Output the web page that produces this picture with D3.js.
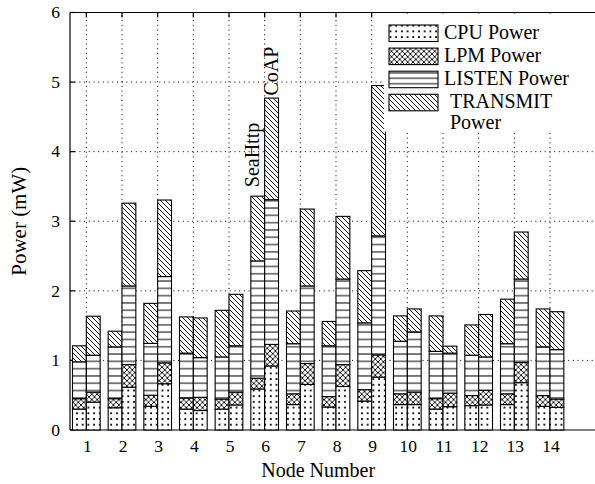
<!DOCTYPE html>
<html><head><meta charset="utf-8">
<script src="https://cdn.jsdelivr.net/npm/d3@7"></script>
<style>
body{margin:0;background:#fff}
svg{display:block}
text{font-family:"Liberation Serif","Times New Roman","DejaVu Serif",serif;fill:#000}
</style>
</head><body>
<svg id="chart" width="595" height="484" font-family="Liberation Serif, Times New Roman, serif"></svg>
<script>
// ---- data ----
const nodes = [1,2,3,4,5,6,7,8,9,10,11,12,13,14];
const seriesKeys = ["cpu","lpm","listen","transmit"];
const legendLines = [["CPU Power"],["LPM Power"],["LISTEN Power"],["TRANSMIT","Power"]];
const protocols = ["SeaHttp","CoAP"];

// SeaHttp (left bar of each pair), segment values in mW
const seaCpu      = [0.30,0.32,0.34,0.30,0.30,0.59,0.365,0.33,0.415,0.365,0.30,0.35,0.365,0.34];
const seaLpm      = [0.15,0.13,0.16,0.16,0.145,0.155,0.155,0.15,0.165,0.155,0.15,0.145,0.155,0.155];
const seaListen   = [0.53,0.745,0.745,0.645,0.605,1.685,0.72,0.73,0.96,0.755,0.68,0.58,0.72,0.70];
const seaTransmit = [0.23,0.225,0.575,0.52,0.67,0.93,0.47,0.35,0.75,0.365,0.51,0.435,0.64,0.545];

// CoAP (right bar of each pair)
const coapCpu      = [0.40,0.615,0.665,0.28,0.36,0.92,0.655,0.625,0.76,0.365,0.335,0.36,0.68,0.325];
const coapLpm      = [0.145,0.325,0.30,0.19,0.185,0.31,0.30,0.315,0.32,0.18,0.195,0.21,0.29,0.12];
const coapListen   = [0.53,1.13,1.24,0.57,0.665,2.08,1.115,1.23,1.71,0.865,0.575,0.48,1.20,0.71];
const coapTransmit = [0.56,1.19,1.10,0.57,0.74,1.46,1.105,0.90,2.16,0.33,0.10,0.61,0.675,0.545];

const yTicks = [0,1,2,3,4,5,6];
const xLabel = "Node Number";
const yLabel = "Power (mW)";
const annotatedNode = 6;

// ---- setup ----
const svg = d3.select("#chart");
const W = 595, H = 484;
const plotLeft = 70, plotTop = 12.5, plotBottom = 430;
const x = d3.scaleLinear().domain([0.5, 15.5]).range([68.5, 603.5]);
const y = d3.scaleLinear().domain([0, 6]).range([plotBottom, plotTop]);
const barUnits = 0.388;
const bw = x(barUnits) - x(0);

// ---- patterns ----
const defs = svg.append("defs");
function pat(id, w, h, draw){
  const p = defs.append("pattern").attr("id", id).attr("patternUnits","userSpaceOnUse")
    .attr("width", w).attr("height", h);
  p.append("rect").attr("width", w).attr("height", h).attr("fill","#fff");
  draw(p);
}
pat("p-cpu", 5.7, 5.7, p => p.append("rect").attr("x",2).attr("y",2).attr("width",1.8).attr("height",1.8).attr("fill","#000"));
pat("p-lpm", 5.4, 5.4, p => p.append("path").attr("d","M-1,-1L6.4,6.4M6.4,-1L-1,6.4M-1,4.4L1,6.4M4.4,-1L6.4,1M-1,1L1,-1M4.4,6.4L6.4,4.4")
  .attr("stroke","#000").attr("stroke-width",0.9).attr("fill","none"));
pat("p-listen", 10, 7.3, p => p.append("line").attr("x1",0).attr("x2",10).attr("y1",3.65).attr("y2",3.65)
  .attr("stroke","#000").attr("stroke-width",1));
pat("p-transmit", 5, 5, p => p.append("path").attr("d","M-1,-1L6,6M-1,4L1,6M4,-1L6,1")
  .attr("stroke","#000").attr("stroke-width",0.9).attr("fill","none"));
pat("p-listen-leg", 10, 5.4, p => p.append("line").attr("x1",0).attr("x2",10).attr("y1",2.7).attr("y2",2.7)
  .attr("stroke","#000").attr("stroke-width",1));

// ---- grid ----
const grid = svg.append("g").attr("stroke","#000").attr("stroke-width",1).attr("stroke-dasharray","1,3.7");
grid.selectAll(".gx").data(nodes).join("line")
  .attr("x1", d => x(d)).attr("x2", d => x(d)).attr("y1", plotBottom).attr("y2", plotTop);
grid.selectAll(".gy").data(yTicks.filter(t => t > 0 && t < 6)).join("line")
  .attr("x1", plotLeft).attr("x2", W).attr("y1", d => y(d)).attr("y2", d => y(d));

// ---- axes frame + ticks ----
const axis = svg.append("g").attr("stroke","#000").attr("stroke-width",1.2);
axis.append("line").attr("x1",plotLeft).attr("x2",W).attr("y1",plotTop).attr("y2",plotTop);
axis.append("line").attr("x1",plotLeft).attr("x2",W).attr("y1",plotBottom).attr("y2",plotBottom);
axis.append("line").attr("x1",plotLeft).attr("x2",plotLeft).attr("y1",plotTop).attr("y2",plotBottom);
axis.selectAll(".tt").data(nodes).join("line")
  .attr("x1", d => x(d)).attr("x2", d => x(d)).attr("y1", plotTop).attr("y2", plotTop + 5);
axis.selectAll(".tb").data(nodes).join("line")
  .attr("x1", d => x(d)).attr("x2", d => x(d)).attr("y1", plotBottom).attr("y2", plotBottom - 5);
axis.selectAll(".tl").data(yTicks).join("line")
  .attr("x1", plotLeft).attr("x2", plotLeft + 5).attr("y1", d => y(d)).attr("y2", d => y(d));

// ---- bars ----
const tables = [
  nodes.map((n,i) => ({node:n, cpu:seaCpu[i], lpm:seaLpm[i], listen:seaListen[i], transmit:seaTransmit[i]})),
  nodes.map((n,i) => ({node:n, cpu:coapCpu[i], lpm:coapLpm[i], listen:coapListen[i], transmit:coapTransmit[i]}))
];
const stack = d3.stack().keys(seriesKeys);
const barsG = svg.append("g");
tables.forEach((rows, p) => {
  const layers = stack(rows);
  layers.forEach(layer => {
    barsG.append("g").selectAll("rect").data(layer).join("rect")
      .attr("x", d => x(d.data.node) + (p === 0 ? -bw : 0))
      .attr("width", bw)
      .attr("y", d => y(d[1]))
      .attr("height", d => y(d[0]) - y(d[1]))
      .attr("fill", `url(#p-${layer.key})`)
      .attr("stroke", "#000").attr("stroke-width", 1.1);
  });
});

// ---- protocol annotations on node 6 ----
const ai = nodes.indexOf(annotatedNode);
tables.forEach((rows, p) => {
  const r = rows[ai];
  const top = seriesKeys.reduce((s,k) => s + r[k], 0);
  const bx = x(annotatedNode) + (p === 0 ? -bw/2 + 1.5 : bw/2 + 6);
  const by = y(top) - (p === 0 ? 9 : 2.5);
  svg.append("text").attr("transform", `translate(${bx},${by}) rotate(-90)`)
    .attr("font-size", 20).text(protocols[p]);
});

// ---- tick labels ----
svg.append("g").selectAll("text").data(nodes).join("text")
  .attr("x", d => x(d) + 1).attr("y", 452).attr("text-anchor","middle")
  .attr("font-size", 17.5).text(d => d);
svg.append("g").selectAll("text").data(yTicks).join("text")
  .attr("x", 60).attr("y", d => y(d)).attr("dy","0.33em").attr("text-anchor","end")
  .attr("font-size", 17.5).text(d => d);

// ---- axis titles ----
svg.append("text").attr("x", x((nodes[0] + nodes[nodes.length-1]) / 2)).attr("y", 477)
  .attr("text-anchor","middle").attr("font-size", 20).text(xLabel);
svg.append("text").attr("transform", `translate(26,${(plotTop+plotBottom)/2}) rotate(-90)`)
  .attr("text-anchor","middle").attr("font-size", 21).text(yLabel);

// ---- legend ----
const leg = svg.append("g");
leg.append("rect").attr("x", 384).attr("y", plotTop + 1).attr("width", W - 384).attr("height", 118).attr("fill","#fff");
const legPat = ["p-cpu","p-lpm","p-listen-leg","p-transmit"];
seriesKeys.forEach((k, i) => {
  const ry = 25 + i * 23.1;
  leg.append("rect").attr("x", 389).attr("y", ry).attr("width", 49).attr("height", 16.5)
    .attr("fill", `url(#${legPat[i]})`).attr("stroke","#000").attr("stroke-width",1.1);
  const lines = legendLines[i];
  const tx = lines.length > 1 ? 450 : 444;
  const t = leg.append("text").attr("font-size", 20);
  lines.forEach((ln, j) => {
    t.append("tspan").attr("x", tx).attr("y", ry + 13.5 + j * 21).text(ln);
  });
});
</script>
</body></html>
